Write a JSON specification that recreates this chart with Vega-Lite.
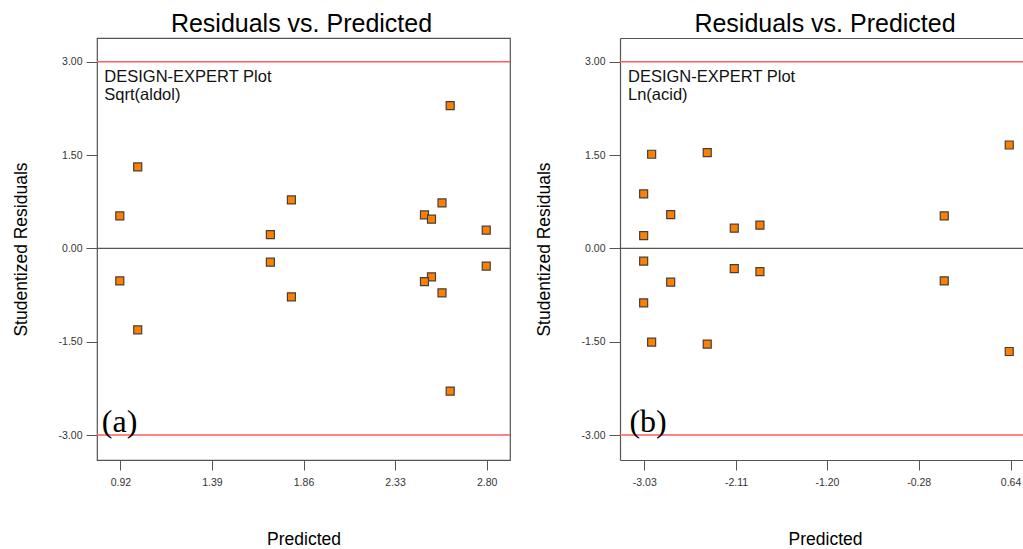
{
  "$schema": "https://vega.github.io/schema/vega-lite/v6.json",
  "padding": {"left": 11, "top": 11, "right": 0, "bottom": 0},
  "spacing": 23,
  "background": "white",
  "config": {
    "font": "Liberation Sans",
    "axis": {"grid": false, "labelFont": "Liberation Sans", "titleFont": "Liberation Sans", "titleFontWeight": "normal", "titleColor": "#000", "labelColor": "#333", "tickColor": "#555", "domainColor": "#555"},
    "title": {"font": "Liberation Sans", "fontWeight": "normal", "fontSize": 25, "color": "#000", "offset": 1}
  },
  "datasets": {
    "aldol": [
      {"pred": 1.009, "res": 1.308},
      {"pred": 0.917, "res": 0.522},
      {"pred": 1.798, "res": 0.778},
      {"pred": 1.690, "res": 0.222},
      {"pred": 2.571, "res": 0.730},
      {"pred": 2.481, "res": 0.538},
      {"pred": 2.517, "res": 0.469},
      {"pred": 2.798, "res": 0.292},
      {"pred": 1.690, "res": -0.222},
      {"pred": 0.917, "res": -0.522},
      {"pred": 1.798, "res": -0.778},
      {"pred": 2.517, "res": -0.457},
      {"pred": 2.481, "res": -0.533},
      {"pred": 2.571, "res": -0.714},
      {"pred": 2.798, "res": -0.286},
      {"pred": 1.009, "res": -1.308},
      {"pred": 2.613, "res": -2.292},
      {"pred": 2.613, "res": 2.292}
    ],
    "acid": [
      {"pred": -2.956, "res": 1.512},
      {"pred": -2.399, "res": 1.538},
      {"pred": 0.627, "res": 1.661},
      {"pred": -3.036, "res": 0.875},
      {"pred": -2.765, "res": 0.543},
      {"pred": -0.024, "res": 0.522},
      {"pred": -2.128, "res": 0.324},
      {"pred": -1.871, "res": 0.372},
      {"pred": -3.036, "res": 0.205},
      {"pred": -3.036, "res": -0.205},
      {"pred": -2.128, "res": -0.324},
      {"pred": -1.871, "res": -0.372},
      {"pred": -2.765, "res": -0.543},
      {"pred": -0.024, "res": -0.522},
      {"pred": -3.036, "res": -0.875},
      {"pred": -2.956, "res": -1.506},
      {"pred": -2.399, "res": -1.538},
      {"pred": 0.627, "res": -1.657}
    ]
  },
  "hconcat": [
    {
      "width": 413,
      "height": 422,
      "title": {"text": "Residuals vs. Predicted", "dx": -2},
      "view": {"stroke": "#555", "strokeWidth": 1.2},
      "layer": [
        {
          "data": {"values": [{"r": 3}, {"r": -3}]},
          "mark": {"type": "rule", "color": "#ff5c5c", "strokeWidth": 1.5},
          "encoding": {"y": {"field": "r", "type": "quantitative", "scale": {"domain": [-3.4, 3.38], "nice": false, "zero": false}}}
        },
        {
          "data": {"values": [{"r": 0}]},
          "mark": {"type": "rule", "color": "#555", "strokeWidth": 1.3},
          "encoding": {"y": {"field": "r", "type": "quantitative", "scale": {"domain": [-3.4, 3.38], "nice": false, "zero": false}}}
        },
        {
          "data": {"name": "aldol"},
          "mark": {"type": "square", "filled": true, "fill": "#ff8000", "stroke": "#404040", "strokeWidth": 1.2, "size": 64, "opacity": 1},
          "encoding": {
            "x": {"field": "pred", "type": "quantitative", "scale": {"domain": [0.8, 2.92], "nice": false, "zero": false},
                  "axis": {"values": [0.92, 1.39, 1.86, 2.33, 2.8], "labelExpr": "format(datum.value, '.2f')", "title": "Predicted", "domain": false, "tickSize": 10, "labelFontSize": 10.5, "labelPadding": 7, "titleFontSize": 17.5, "titlePadding": 43}},
            "y": {"field": "res", "type": "quantitative", "scale": {"domain": [-3.4, 3.38], "nice": false, "zero": false},
                  "axis": {"values": [-3, -1.5, 0, 1.5, 3], "labelExpr": "replace(format(datum.value, '.2f'), '\u2212', '-')", "title": "Studentized Residuals", "domain": false, "tickSize": 11, "labelFontSize": 10.5, "labelPadding": 4, "titleFontSize": 17.5, "titlePadding": 28}}
          }
        },
        {
          "data": {"values": [{"x": 0.8374, "y": 2.677, "t": "DESIGN-EXPERT Plot"}, {"x": 0.8374, "y": 2.376, "t": "Sqrt(aldol)"}]},
          "mark": {"type": "text", "align": "left", "baseline": "alphabetic", "font": "Liberation Sans", "fontSize": 16.5, "color": "#111"},
          "encoding": {
            "x": {"field": "x", "type": "quantitative", "scale": {"domain": [0.8, 2.92], "nice": false, "zero": false}},
            "y": {"field": "y", "type": "quantitative", "scale": {"domain": [-3.4, 3.38], "nice": false, "zero": false}},
            "text": {"field": "t"}
          }
        },
        {
          "data": {"values": [{"x": 0.8245, "y": -2.953, "t": "(a)"}]},
          "mark": {"type": "text", "align": "left", "baseline": "alphabetic", "font": "Liberation Serif", "fontSize": 32, "color": "#000"},
          "encoding": {
            "x": {"field": "x", "type": "quantitative", "scale": {"domain": [0.8, 2.92], "nice": false, "zero": false}},
            "y": {"field": "y", "type": "quantitative", "scale": {"domain": [-3.4, 3.38], "nice": false, "zero": false}},
            "text": {"field": "t"}
          }
        }
      ]
    },
    {
      "width": 403,
      "height": 422,
      "title": {"text": "Residuals vs. Predicted", "dx": 3.5},
      "view": {"stroke": null},
      "resolve": {"axis": {"x": "independent"}},
      "layer": [
        {
          "data": {"values": [{"r": 3}, {"r": -3}]},
          "mark": {"type": "rule", "color": "#ff5c5c", "strokeWidth": 1.5},
          "encoding": {"y": {"field": "r", "type": "quantitative", "scale": {"domain": [-3.4, 3.38], "nice": false, "zero": false}}}
        },
        {
          "data": {"values": [{"r": 0}]},
          "mark": {"type": "rule", "color": "#555", "strokeWidth": 1.3},
          "encoding": {"y": {"field": "r", "type": "quantitative", "scale": {"domain": [-3.4, 3.38], "nice": false, "zero": false}}}
        },
        {
          "data": {"name": "acid"},
          "mark": {"type": "square", "filled": true, "fill": "#ff8000", "stroke": "#404040", "strokeWidth": 1.2, "size": 64, "opacity": 1},
          "encoding": {
            "x": {"field": "pred", "type": "quantitative", "scale": {"domain": [-3.273, 0.765], "nice": false, "zero": false},
                  "axis": {"values": [-3.03, -2.11, -1.2, -0.28, 0.64], "labelExpr": "replace(format(datum.value, '.2f'), '\u2212', '-')", "title": "Predicted", "titleX": 205, "domain": true, "domainWidth": 1.2, "tickSize": 10, "labelFontSize": 10.5, "labelPadding": 7, "titleFontSize": 17.5, "titlePadding": 43}},
            "y": {"field": "res", "type": "quantitative", "scale": {"domain": [-3.4, 3.38], "nice": false, "zero": false},
                  "axis": {"values": [-3, -1.5, 0, 1.5, 3], "labelExpr": "replace(format(datum.value, '.2f'), '\u2212', '-')", "title": "Studentized Residuals", "domain": true, "domainWidth": 1.2, "tickSize": 11, "labelFontSize": 10.5, "labelPadding": 4, "titleFontSize": 17.5, "titlePadding": 28}}
          }
        },
        {
          "data": {"values": [{"x": -3.193, "y": 2.677, "t": "DESIGN-EXPERT Plot"}, {"x": -3.193, "y": 2.376, "t": "Ln(acid)"}]},
          "mark": {"type": "text", "align": "left", "baseline": "alphabetic", "font": "Liberation Sans", "fontSize": 16.5, "color": "#111"},
          "encoding": {
            "x": {"field": "x", "type": "quantitative", "scale": {"domain": [-3.273, 0.765], "nice": false, "zero": false},
                  "axis": {"orient": "top", "labels": false, "ticks": false, "title": null, "domain": true, "domainWidth": 1.2}},
            "y": {"field": "y", "type": "quantitative", "scale": {"domain": [-3.4, 3.38], "nice": false, "zero": false}},
            "text": {"field": "t"}
          }
        },
        {
          "data": {"values": [{"x": -3.179, "y": -2.953, "t": "(b)"}]},
          "mark": {"type": "text", "align": "left", "baseline": "alphabetic", "font": "Liberation Serif", "fontSize": 32, "color": "#000"},
          "encoding": {
            "x": {"field": "x", "type": "quantitative", "scale": {"domain": [-3.273, 0.765], "nice": false, "zero": false}, "axis": null},
            "y": {"field": "y", "type": "quantitative", "scale": {"domain": [-3.4, 3.38], "nice": false, "zero": false}},
            "text": {"field": "t"}
          }
        }
      ]
    }
  ]
}
